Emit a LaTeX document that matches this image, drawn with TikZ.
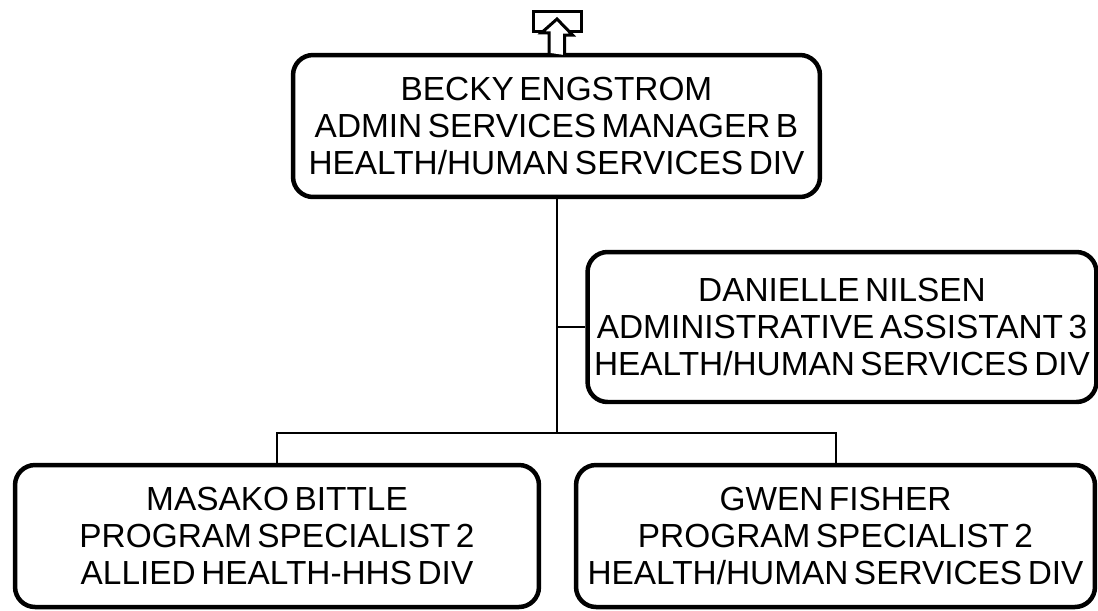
\documentclass[tikz,border=0pt]{standalone}
\usepackage{fontspec}
\setmainfont[WordSpace=0.6]{Liberation Sans}

\begin{document}
\begin{tikzpicture}[x=0.02cm, y=-0.02cm,
  every node/.style = {shape=rectangle, rounded corners=0.4cm,
    draw, line width=0.09cm, align=center, inner sep=0pt,
    font=\fontsize{19}{21}\selectfont, minimum height=2.84cm},
  link/.style = {line width=0.04cm},
  icon/.style = {line width=0.06cm, fill=white}]
  \useasboundingbox (0,0) rectangle (1098,610);
  \node (becky) [minimum width=10.54cm] at (556.5,126)
    {BECKY ENGSTROM\\ADMIN SERVICES MANAGER B\\HEALTH/HUMAN SERVICES DIV};
  \node (danielle) [minimum width=10.18cm, minimum height=3cm] at (842,327)
    {DANIELLE NILSEN\\ADMINISTRATIVE ASSISTANT 3\\HEALTH/HUMAN SERVICES DIV};
  \node (masako) [minimum width=10.48cm] at (277,536)
    {MASAKO BITTLE\\PROGRAM SPECIALIST 2\\ALLIED HEALTH-HHS DIV};
  \node (gwen) [minimum width=10.38cm] at (835.5,536)
    {GWEN FISHER\\PROGRAM SPECIALIST 2\\HEALTH/HUMAN SERVICES DIV};
  % connectors
  \coordinate (bus) at (becky.south |- 0,433);
  \draw [link] (becky.south) -- (bus);
  \draw [link] (becky.south |- danielle.west) -- (danielle.west);
  \draw [link] (masako.north) |- (bus) -| (gwen.north);
  % reports-to icon
  \draw [icon] (533,11) rectangle (581,31);
  \draw [icon] (becky.north) ++(-7.5,0) -- ++(0,-20) -- ++(-7.5,0)
    -- (557,19) -- ++(15.5,16) -- ++(-8,0) -- (564.5,55);
\end{tikzpicture}
\end{document}
